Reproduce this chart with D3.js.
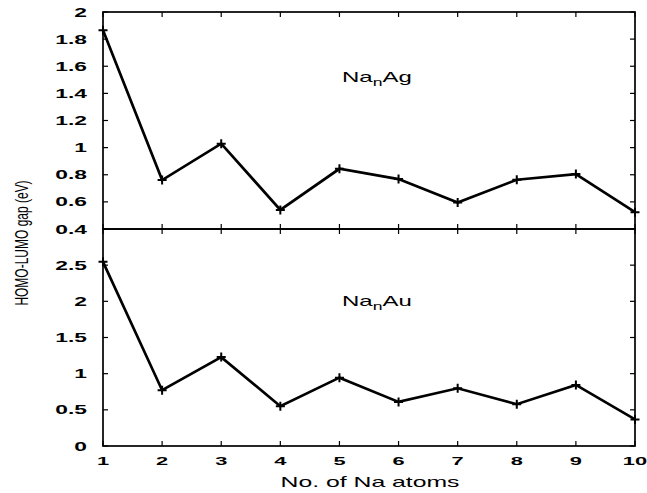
<!DOCTYPE html>
<html>
<head>
<meta charset="utf-8">
<script src="https://cdn.jsdelivr.net/npm/d3@7"></script>
<style>
  html, body { margin: 0; padding: 0; background: #fff; }
  svg { display: block; }
  text { font-family: "Liberation Sans", Arial, Helvetica, sans-serif; fill: #000; }
</style>
</head>
<body>
<svg id="chart" width="647" height="493"></svg>
<script>
// ---- data ----
const atoms = [1, 2, 3, 4, 5, 6, 7, 8, 9, 10];
const gapAg = [1.866, 0.761, 1.029, 0.541, 0.844, 0.768, 0.595, 0.763, 0.805, 0.524];
const gapAu = [2.546, 0.771, 1.229, 0.550, 0.945, 0.610, 0.798, 0.578, 0.844, 0.367];
const topTicks = [0.4, 0.6, 0.8, 1, 1.2, 1.4, 1.6, 1.8, 2];
const bottomTicks = [0, 0.5, 1, 1.5, 2, 2.5];
const xTicks = [1, 2, 3, 4, 5, 6, 7, 8, 9, 10];

const svg = d3.select("#chart");
const L = 103, R = 635, T = 12, M = 229, B = 446;
const x = d3.scaleLinear().domain([1, 10]).range([L, R]);
const yTop = d3.scaleLinear().domain([0.4, 2]).range([M, T]);
const yBot = d3.scaleLinear().domain([0, 3]).range([B, M]);

const tickFont = 12;
const tickSX = 1.9;
const tickLen = 5;

function stretchedText(g, tx, ty, str, size, anchor, sx, weight) {
  return g.append("text")
    .attr("transform", `translate(${tx},${ty}) scale(${sx},1)`)
    .attr("text-anchor", anchor)
    .attr("font-size", size)
    .attr("font-weight", weight || "normal")
    .text(str);
}

function panel(y, ticks, values, labelTicks, name, labelY) {
  const g = svg.append("g");
  const [y0, y1] = y.range();
  g.append("rect").attr("x", L).attr("y", y1).attr("width", R - L).attr("height", y0 - y1)
    .attr("fill", "none").attr("stroke", "#000").attr("stroke-width", 1.7);
  ticks.forEach(t => {
    const yy = y(t);
    g.append("line").attr("x1", L).attr("x2", L + tickLen).attr("y1", yy).attr("y2", yy)
      .attr("stroke", "#000").attr("stroke-width", 1.2);
    g.append("line").attr("x1", R).attr("x2", R - tickLen).attr("y1", yy).attr("y2", yy)
      .attr("stroke", "#000").attr("stroke-width", 1.2);
  });
  labelTicks.forEach(t => {
    stretchedText(g, 87, y(t) + 4.5, d3.format("~g")(t), tickFont, "end", tickSX, "bold");
  });
  xTicks.forEach(v => {
    const xx = x(v);
    g.append("line").attr("x1", xx).attr("x2", xx).attr("y1", y1).attr("y2", y1 + tickLen)
      .attr("stroke", "#000").attr("stroke-width", 1.2);
    g.append("line").attr("x1", xx).attr("x2", xx).attr("y1", y0).attr("y2", y0 - tickLen)
      .attr("stroke", "#000").attr("stroke-width", 1.2);
  });
  const data = atoms.map((a, i) => [a, values[i]]);
  g.append("path").datum(data)
    .attr("d", d3.line().x(d => x(d[0])).y(d => y(d[1])))
    .attr("fill", "none").attr("stroke", "#000").attr("stroke-width", 2.7)
    .attr("stroke-linejoin", "miter");
  const s = 4.5;
  data.forEach(d => {
    const cx = x(d[0]), cy = y(d[1]);
    g.append("path").attr("d", `M${cx - s},${cy}H${cx + s}M${cx},${cy - s}V${cy + s}`)
      .attr("stroke", "#000").attr("stroke-width", 2);
  });
  const t = g.append("text")
    .attr("transform", `translate(342,${labelY}) scale(1.6,1)`)
    .attr("font-size", 15);
  t.append("tspan").text("Na");
  t.append("tspan").attr("font-size", 11).attr("dy", 4).text("n");
  t.append("tspan").attr("dy", -4).text(name);
}

panel(yTop, topTicks, gapAg, topTicks, "Ag", 82);
panel(yBot, bottomTicks, gapAu, bottomTicks, "Au", 306);

const gx = svg.append("g");
xTicks.forEach(v => stretchedText(gx, x(v), 465, String(v), 11.5, "middle", tickSX, "bold"));

stretchedText(svg, 370, 487, "No. of Na atoms", 14, "middle", 1.77);
svg.append("text")
  .attr("transform", `translate(28,243) rotate(-90) scale(1,1.5)`)
  .attr("text-anchor", "middle")
  .attr("font-size", 12)
  .text("HOMO-LUMO gap (eV)");
</script>
</body>
</html>
